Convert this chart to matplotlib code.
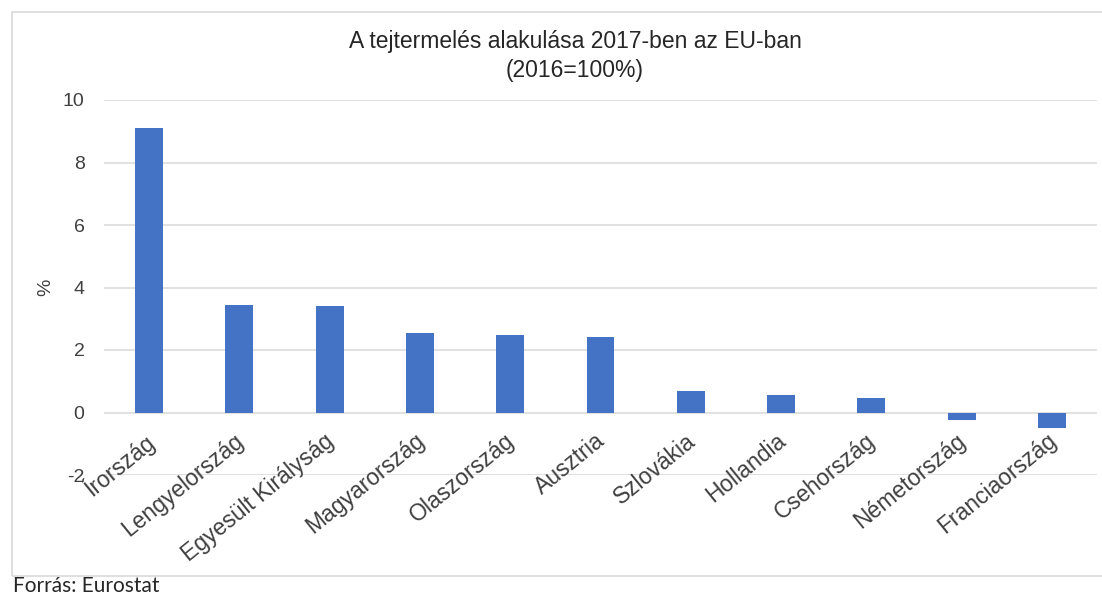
import matplotlib
matplotlib.use("Agg")
import matplotlib.pyplot as plt
import matplotlib.patches as patches

# Milk production change in 2017 vs 2016 (%)
countries = ["Írország", "Lengyelország", "Egyesült Királyság", "Magyarország",
             "Olaszország", "Ausztria", "Szlovákia", "Hollandia", "Csehország",
             "Németország", "Franciaország"]
changes = [9.12, 3.43, 3.40, 2.56, 2.48, 2.41, 0.70, 0.55, 0.45, -0.23, -0.50]
y_ticks = [-2, 0, 2, 4, 6, 8, 10]

title = "A tejtermelés alakulása 2017-ben az EU-ban\n(2016=100%)"
source = "Forrás: Eurostat"

plt.rcParams['font.family'] = ['Liberation Sans', 'DejaVu Sans']

fig = plt.figure(figsize=(11.02, 5.94), dpi=100)
W, H = 1102, 594

# light frame around the chart area
frame = patches.Rectangle((12 / W, 1 - 576 / H), 1.2, (576 - 12) / H,
                          transform=fig.transFigure, fill=False,
                          edgecolor='#d9d9d9', linewidth=1.2)
fig.patches.append(frame)

ax = fig.add_axes([104 / W, 1 - 475 / H, (1097 - 104) / W, (475 - 100) / H])

x = list(range(len(countries)))
ax.bar(x, changes, width=0.31, color='#4472C4', zorder=3)

ax.set_xlim(-0.5, len(countries) - 0.5)
ax.set_ylim(-2, 10)
ax.set_yticks(y_ticks)
ax.set_yticklabels([str(v) for v in y_ticks], fontsize=14, color='#404040')
ax.tick_params(axis='y', length=0, pad=14)
ax.set_xticks([])
ax.yaxis.grid(True, color='#d9d9d9', linewidth=1.1, zorder=0)
for s in ax.spines.values():
    s.set_visible(False)

ax.set_ylabel("%", fontsize=14, color='#404040', labelpad=6)

# category labels sit next to the zero line, as in the original
for xi, name in zip(x, countries):
    ax.annotate(name, xy=(xi, 0), xycoords='data', xytext=(-4, -12),
                textcoords='offset points', rotation=39, ha='right', va='top',
                rotation_mode='anchor', fontsize=16.5, color='#404040',
                annotation_clip=False, zorder=4)

fig.text(575 / W, 1 - 56 / H, title, ha='center', va='center',
         fontsize=16.5, color='#262626', linespacing=1.35)

fig.text(13 / W, 1 - 586 / H, source, ha='left', va='center',
         fontsize=15, color='#262626', family=['Lato', 'DejaVu Sans'])

fig.savefig("out.png", dpi=100)
